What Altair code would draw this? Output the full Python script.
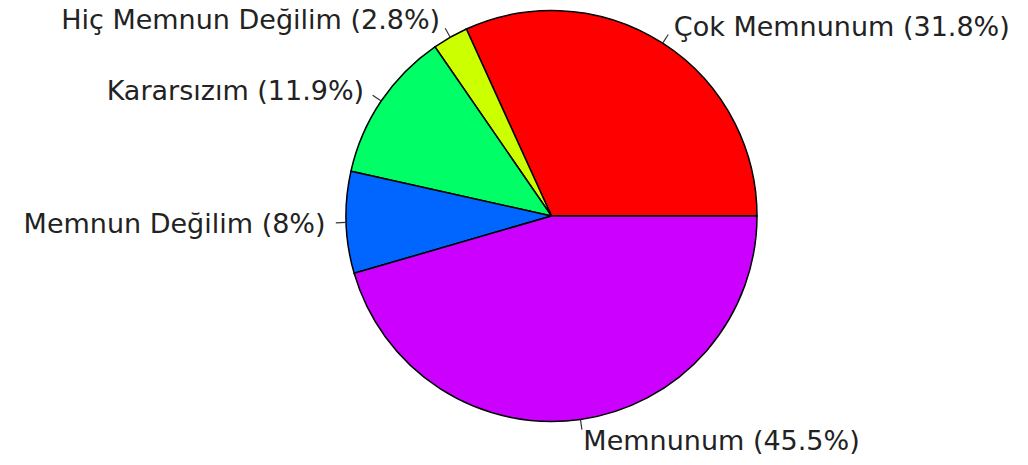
import math
import altair as alt
import pandas as pd

# Data (counter-clockwise from 3 o'clock, as in R's pie)
names = ["Çok Memnunum", "Hiç Memnun Değilim", "Kararsızım", "Memnun Değilim", "Memnunum"]
values = [31.8, 2.8, 11.9, 8, 45.5]
colors = ["#FF0000", "#CCFF00", "#00FF66", "#0066FF", "#CC00FF"]

df = pd.DataFrame({
    "name": names,
    "value": values,
    "label": [f"{n} ({v:g}%)" for n, v in zip(names, values)],
    "i": list(range(len(names))),
    "draw": [len(names) - 1 - k for k in range(len(names))],
})

W, H = 1012, 449
CX, CY, R = 543.5, 208.0, 205.5

xs = alt.Scale(domain=[-CX / R, (W - CX) / R], nice=False, zero=False)
ys = alt.Scale(domain=[-(H - CY) / R, CY / R], nice=False, zero=False)

base = alt.Chart(df)

pie = base.mark_arc(radius=R, stroke="black", strokeWidth=1.5).encode(
    theta=alt.Theta("value:Q", stack=True,
                    scale=alt.Scale(range=[math.pi / 2, 5 * math.pi / 2])),
    order=alt.Order("draw:Q"),
    color=alt.Color("name:N", scale=alt.Scale(domain=names, range=colors), legend=None),
    x=alt.value(CX),
    y=alt.value(CY),
)

geo = base.transform_window(
    cum="sum(value)", sort=[alt.SortField("i")]
).transform_calculate(
    a="(datum.cum - datum.value / 2) / 100 * 2 * PI"
).transform_calculate(
    x0="cos(datum.a)", y0="sin(datum.a)",
    x1="1.05 * cos(datum.a)", y1="1.05 * sin(datum.a)",
    lx="1.1 * cos(datum.a)", ly="1.1 * sin(datum.a)",
)

ticks = geo.mark_rule(color="#333333", strokeWidth=1.2).encode(
    x=alt.X("x0:Q", scale=xs, axis=None),
    y=alt.Y("y0:Q", scale=ys, axis=None),
    x2="x1:Q",
    y2="y1:Q",
)

txt_r = geo.transform_filter("datum.lx >= 0").mark_text(
    align="left", baseline="middle", font="DejaVu Sans", fontSize=27,
    color="#222222", dy=2
).encode(
    x=alt.X("lx:Q", scale=xs, axis=None),
    y=alt.Y("ly:Q", scale=ys, axis=None),
    text="label:N",
)

txt_l = geo.transform_filter("datum.lx < 0").mark_text(
    align="right", baseline="middle", font="DejaVu Sans", fontSize=27,
    color="#222222", dy=2
).encode(
    x=alt.X("lx:Q", scale=xs, axis=None),
    y=alt.Y("ly:Q", scale=ys, axis=None),
    text="label:N",
)

chart = alt.layer(pie, ticks, txt_r, txt_l).properties(
    width=W, height=H, padding=0,
    autosize=alt.AutoSizeParams(type="none"),
    background="white",
).configure_view(stroke=None)

chart.save("out.html", embed_options={"renderer": "svg", "actions": False})
